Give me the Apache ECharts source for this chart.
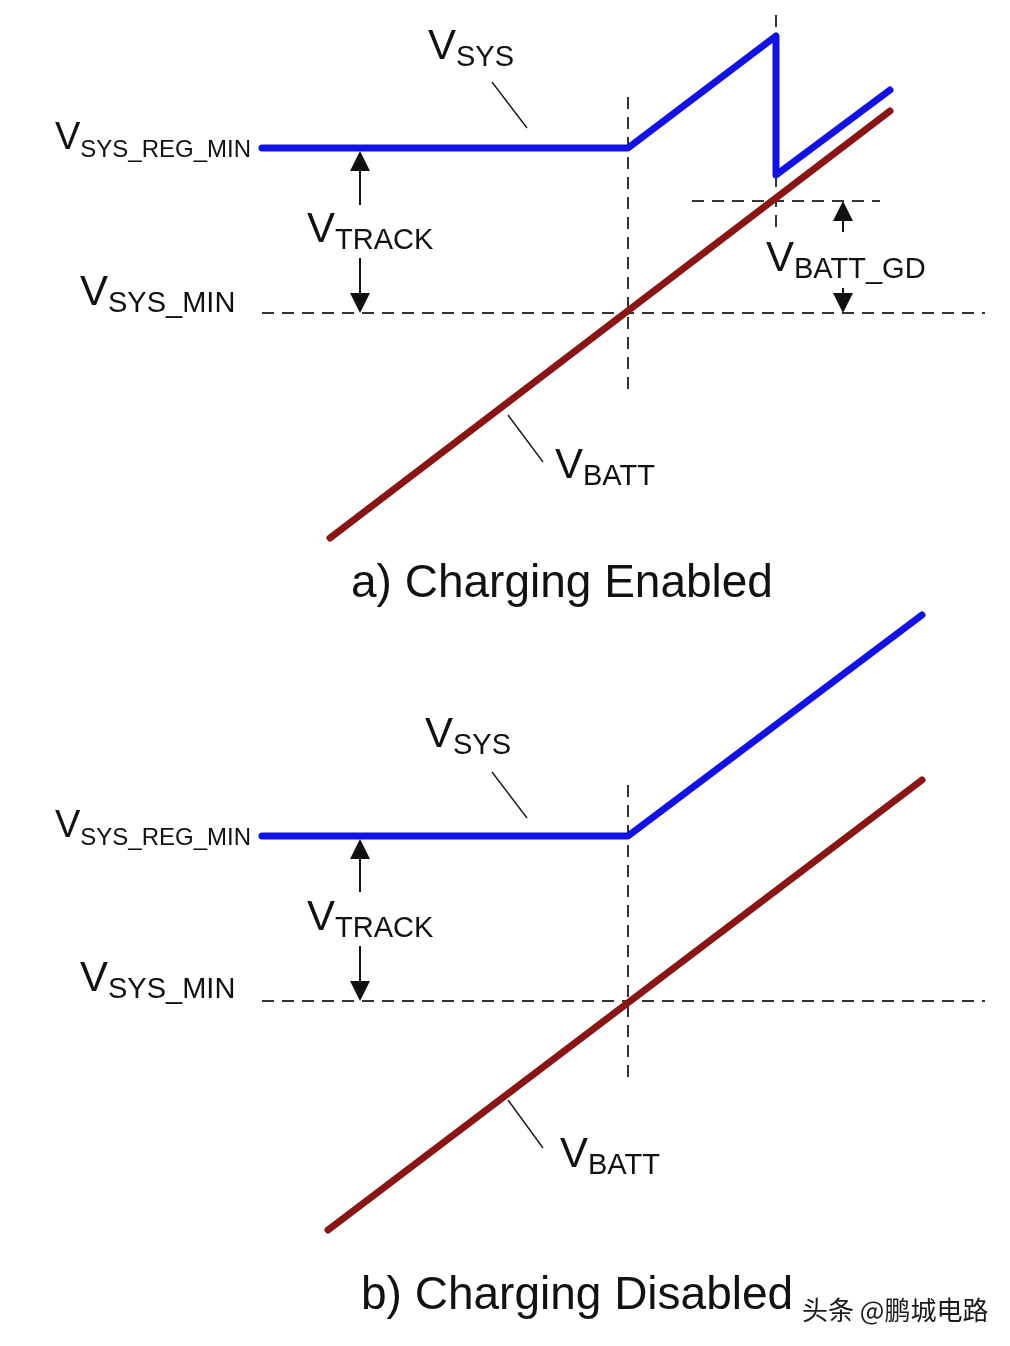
<!DOCTYPE html>
<html>
<head>
<meta charset="utf-8">
<script src="https://cdn.jsdelivr.net/npm/echarts@6/dist/echarts.min.js"></script>
<style>
  html, body { margin: 0; padding: 0; background: #fff; }
  #chart { width: 1010px; height: 1346px; }
</style>
</head>
<body>
<div id="chart"></div>
<script>
// panel coordinates: x along the picture, level upward (0 = panel bottom)
const levelSysRegMin = 510
const levelSysMin = 345
const levelBattGd = 457

// a) charging enabled
const sysXA = [262, 628, 776, 776, 890]
const sysLevelA = [levelSysRegMin, levelSysRegMin, 622, 483, 568]
const battXA = [330, 890]
const battLevelA = [120, 547]

// b) charging disabled
const sysXB = [262, 628, 922]
const sysLevelB = [levelSysRegMin, levelSysRegMin, 731]
const battXB = [328, 922]
const battLevelB = [116, 566]

// dashed guides [x1, y1, x2, y2]
const dashedA = [
  [262, levelSysMin, 985, levelSysMin],
  [692, levelBattGd, 880, levelBattGd],
  [628, 561, 628, 263],
  [776, 643, 776, 426]
]
const dashedB = [
  [262, levelSysMin, 985, levelSysMin],
  [628, 561, 628, 263]
]

// arrows (tail -> tip)
const arrowsA = [
  [360, 453, 360, levelSysRegMin - 3],
  [360, 400, 360, levelSysMin],
  [843, 426, 843, levelBattGd],
  [843, 370, 843, levelSysMin]
]
const arrowsB = [
  [360, 454, 360, levelSysRegMin - 3],
  [360, 400, 360, levelSysMin]
]

// leader lines from labels to curves
const leadersA = [[492, 576, 527, 530], [508, 243, 543, 196]]
const leadersB = [[492, 574, 527, 528], [508, 246, 543, 198]]

// labels: main letter, subscript
const labelTextA = [['V', 'SYS_REG_MIN'], ['V', 'SYS_MIN'], ['V', 'TRACK'], ['V', 'SYS'], ['V', 'BATT'], ['V', 'BATT_GD']]
const labelAnchorA = [[55, 496], [80, 340], [307, 403], [428, 586], [555, 167], [766, 374]]
const labelTextB = [['V', 'SYS_REG_MIN'], ['V', 'SYS_MIN'], ['V', 'TRACK'], ['V', 'SYS'], ['V', 'BATT']]
const labelAnchorB = [[55, 496], [80, 342], [307, 403], [425, 586], [560, 166]]

const captions = ['a) Charging Enabled', 'b) Charging Disabled']
const watermark = '头条 @鹏城电路'

const FONT = '"Liberation Sans", Arial, sans-serif'
const BLUE = '#1212e4'
const RED = '#8a1515'
const INK = '#111'
const HEAD = 20

const zip = (xs, ys) => xs.map((x, i) => [x, ys[i]])
const segs = list => list.map(s => ({ coords: [[s[0], s[1]], [s[2], s[3]]] }))
// the head symbol is centred on the end point, so pull it back by half its size
const tipSegs = list => list.map(s => {
  const dir = Math.sign(s[3] - s[1])
  return { coords: [[s[0], s[1]], [s[2], s[3] - dir * HEAD / 2]] }
})

const curve = (idx, xs, ys, color) => ({
  type: 'line',
  xAxisIndex: idx,
  yAxisIndex: idx,
  data: zip(xs, ys),
  symbol: 'none',
  clip: false,
  z: 5,
  lineStyle: { color, width: 7, cap: 'round', join: 'round' }
})

const dashed = (idx, list) => ({
  type: 'lines',
  coordinateSystem: 'cartesian2d',
  xAxisIndex: idx,
  yAxisIndex: idx,
  data: segs(list),
  symbol: 'none',
  z: 2,
  lineStyle: { color: '#333', width: 2, type: [12, 8], opacity: 1 }
})

const arrows = (idx, list) => ({
  type: 'lines',
  coordinateSystem: 'cartesian2d',
  xAxisIndex: idx,
  yAxisIndex: idx,
  data: tipSegs(list),
  symbol: ['none', 'triangle'],
  symbolSize: HEAD,
  z: 3,
  lineStyle: { color: INK, width: 2, opacity: 1 }
})

const leaders = (idx, list) => ({
  type: 'lines',
  coordinateSystem: 'cartesian2d',
  xAxisIndex: idx,
  yAxisIndex: idx,
  data: segs(list),
  symbol: 'none',
  z: 3,
  lineStyle: { color: INK, width: 1.3, opacity: 1 }
})

const labels = (idx, texts, anchors) => ({
  type: 'scatter',
  xAxisIndex: idx,
  yAxisIndex: idx,
  symbolSize: 0,
  z: 6,
  itemStyle: { opacity: 1 },
  data: texts.map((t, i) => ({
    value: anchors[i],
    label: { formatter: t[1] === 'SYS_REG_MIN' ? `{vr|${t[0]}}{sr|${t[1]}}` : `{v|${t[0]}}{s|${t[1]}}` }
  })),
  label: {
    show: true,
    position: [0, 0],
    align: 'left',
    verticalAlign: 'bottom',
    color: INK,
    rich: {
      v: { fontFamily: FONT, fontSize: 42, color: INK, verticalAlign: 'bottom', lineHeight: 44, padding: [0, 0, 4, 0] },
      s: { fontFamily: FONT, fontSize: 29, color: INK, verticalAlign: 'bottom', lineHeight: 44 },
      vr: { fontFamily: FONT, fontSize: 38, color: INK, verticalAlign: 'bottom', lineHeight: 40, padding: [0, 0, 4, 0] },
      sr: { fontFamily: FONT, fontSize: 24, color: INK, verticalAlign: 'bottom', lineHeight: 40 }
    }
  }
})

const chart = echarts.init(document.getElementById('chart'))
chart.setOption({
  backgroundColor: '#fff',
  animation: false,
  title: [
    { text: captions[0], left: 346, top: 556, textStyle: { fontFamily: FONT, fontSize: 46, fontWeight: 'normal', color: INK } },
    { text: captions[1], left: 356, top: 1268, textStyle: { fontFamily: FONT, fontSize: 46, fontWeight: 'normal', color: INK } },
    {
      text: watermark, left: 797, top: 1292,
      textStyle: {
        fontFamily: '"Noto Sans CJK SC", sans-serif', fontSize: 26, fontWeight: 'normal', color: '#1a1a1a',
        textBorderColor: '#fff', textBorderWidth: 2
      }
    }
  ],
  grid: [
    { left: 0, right: 0, top: 0, height: 658 },
    { left: 0, right: 0, top: 688, height: 658 }
  ],
  xAxis: [
    { type: 'value', gridIndex: 0, min: 0, max: 1010, show: false },
    { type: 'value', gridIndex: 1, min: 0, max: 1010, show: false }
  ],
  yAxis: [
    { type: 'value', gridIndex: 0, min: 0, max: 658, show: false },
    { type: 'value', gridIndex: 1, min: 0, max: 658, show: false }
  ],
  series: [
    dashed(0, dashedA),
    arrows(0, arrowsA),
    leaders(0, leadersA),
    curve(0, battXA, battLevelA, RED),
    curve(0, sysXA, sysLevelA, BLUE),
    labels(0, labelTextA, labelAnchorA),
    dashed(1, dashedB),
    arrows(1, arrowsB),
    leaders(1, leadersB),
    curve(1, battXB, battLevelB, RED),
    curve(1, sysXB, sysLevelB, BLUE),
    labels(1, labelTextB, labelAnchorB)
  ]
})
</script>
</body>
</html>
